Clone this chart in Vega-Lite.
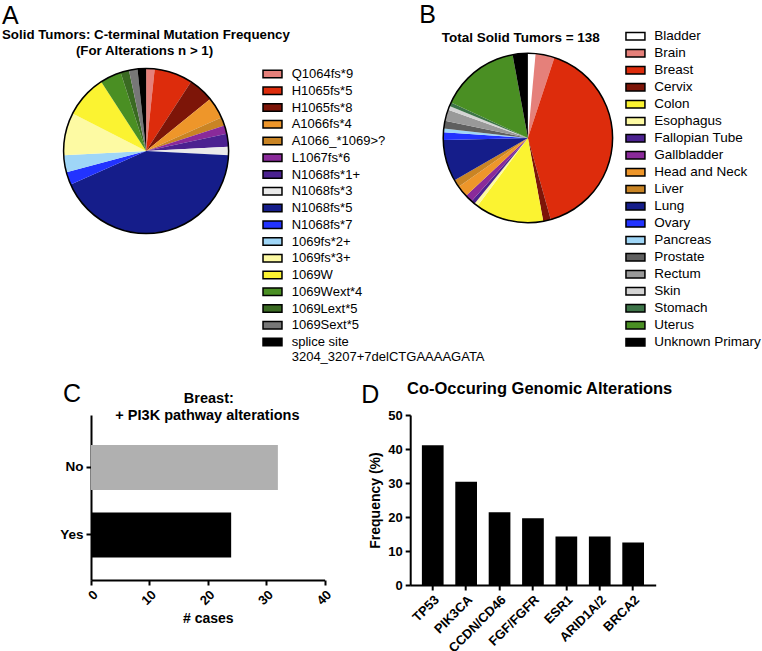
{
  "$schema": "https://vega.github.io/schema/vega-lite/v6.json",
  "background": "white",
  "autosize": {"type": "pad"},
  "padding": {"left": 2, "top": 3, "right": 0, "bottom": 0},
  "columns": 2,
  "spacing": {"row": 166, "column": 85.2},
  "bounds": "flush",
  "align": "each",
  "resolve": {
    "scale": {"color": "independent", "theta": "independent", "x": "independent", "y": "independent"},
    "legend": {"color": "independent"}
  },
  "concat": [
    {
      "width": 110.2,
      "height": 196,
      "title": {
        "text": "A",
        "subtitle": ["Solid Tumors: C-terminal Mutation Frequency", "\u200b\u00a0\u00a0\u00a0\u00a0\u00a0\u00a0\u00a0\u00a0\u00a0\u00a0\u00a0\u00a0\u00a0\u00a0\u00a0\u00a0\u00a0\u00a0\u00a0\u00a0(For Alterations n > 1)"],
        "dx": -89,
        "offset": -4.4,
        "subtitleFontSize": 13.3,
        "subtitleLineHeight": 16,
        "subtitlePadding": -1
      },
      "data": {"values": [
        {"k": 1, "mutation": "Q1064fs*9", "n": 2},
        {"k": 2, "mutation": "H1065fs*5", "n": 9},
        {"k": 3, "mutation": "H1065fs*8", "n": 6},
        {"k": 4, "mutation": "A1066fs*4", "n": 5},
        {"k": 5, "mutation": "A1066_*1069>?", "n": 2},
        {"k": 6, "mutation": "L1067fs*6", "n": 2},
        {"k": 7, "mutation": "N1068fs*1+", "n": 3},
        {"k": 8, "mutation": "N1068fs*3", "n": 2},
        {"k": 9, "mutation": "N1068fs*5", "n": 51},
        {"k": 10, "mutation": "N1068fs*7", "n": 3},
        {"k": 11, "mutation": "1069fs*2+", "n": 4},
        {"k": 12, "mutation": "1069fs*3+", "n": 10},
        {"k": 13, "mutation": "1069W", "n": 10},
        {"k": 14, "mutation": "1069Wext*4", "n": 5},
        {"k": 15, "mutation": "1069Lext*5", "n": 2},
        {"k": 16, "mutation": "1069Sext*5", "n": 2},
        {"k": 17, "mutation": "splice site 3204_3207+7delCTGAAAAGATA", "n": 2}
      ]},
      "layer": [
        {
          "mark": {"type": "arc", "radius": 82.5},
          "encoding": {
            "theta": {"field": "n", "type": "quantitative", "stack": true},
            "order": {"field": "k", "type": "quantitative"},
            "color": {
              "field": "mutation", "type": "nominal",
              "scale": {
                "domain": ["Q1064fs*9","H1065fs*5","H1065fs*8","A1066fs*4","A1066_*1069>?","L1067fs*6","N1068fs*1+","N1068fs*3","N1068fs*5","N1068fs*7","1069fs*2+","1069fs*3+","1069W","1069Wext*4","1069Lext*5","1069Sext*5","splice site 3204_3207+7delCTGAAAAGATA"],
                "range": ["#e5807a","#dd2c0c","#7d1508","#ee962a","#c98424","#8a2a9a","#4b2190","#eaeaea","#151d8a","#2233ff","#9fd6f7","#fdfaa3","#fbf331","#4a8f23","#3a6a22","#777777","#000000"]
              },
              "legend": {
                "orient": "none", "legendX": 172, "legendY": 14.5, "title": null, "padding": 0,
                "symbolType": "M-2,-0.8H2V0.8H-2Z", "symbolSize": 90,
                "symbolStrokeColor": "black", "symbolStrokeWidth": 1.5,
                "symbolOffset": 3, "labelOffset": 12.7, "rowPadding": 1.75,
                "labelFontSize": 13, "labelLimit": 300,
                "labelExpr": "datum.label == 'splice site 3204_3207+7delCTGAAAAGATA' ? ['splice site', '3204_3207+7delCTGAAAAGATA'] : datum.label"
              }
            }
          }
        },
        {
          "transform": [{"aggregate": [{"op": "sum", "field": "n", "as": "total"}]}],
          "mark": {"type": "arc", "radius": 82.5, "filled": false, "stroke": "black", "strokeWidth": 1.5},
          "encoding": {"theta": {"field": "total", "type": "quantitative"}}
        }
      ]
    },
    {
      "width": 235.4,
      "height": 170,
      "title": {
        "text": "B",
        "subtitle": "\u200b\u00a0\u00a0\u00a0\u00a0\u00a0\u00a0Total Solid Tumors = 138",
        "dx": 9,
        "offset": -14.65,
        "subtitleFontSize": 13.5,
        "subtitlePadding": 2.5
      },
      "data": {"values": [
        {"k": 1, "site": "Bladder", "n": 2},
        {"k": 2, "site": "Brain", "n": 5},
        {"k": 3, "site": "Breast", "n": 56},
        {"k": 4, "site": "Cervix", "n": 2},
        {"k": 5, "site": "Colon", "n": 18},
        {"k": 6, "site": "Esophagus", "n": 1},
        {"k": 7, "site": "Fallopian Tube", "n": 1},
        {"k": 8, "site": "Gallbladder", "n": 2},
        {"k": 9, "site": "Head and Neck", "n": 3},
        {"k": 10, "site": "Liver", "n": 2},
        {"k": 11, "site": "Lung", "n": 11},
        {"k": 12, "site": "Ovary", "n": 2},
        {"k": 13, "site": "Pancreas", "n": 1},
        {"k": 14, "site": "Prostate", "n": 2},
        {"k": 15, "site": "Rectum", "n": 3},
        {"k": 16, "site": "Skin", "n": 1},
        {"k": 17, "site": "Stomach", "n": 1},
        {"k": 18, "site": "Uterus", "n": 21},
        {"k": 19, "site": "Unknown Primary", "n": 4}
      ]},
      "layer": [
        {
          "mark": {"type": "arc", "radius": 84.7},
          "encoding": {
            "theta": {"field": "n", "type": "quantitative", "stack": true},
            "order": {"field": "k", "type": "quantitative"},
            "color": {
              "field": "site", "type": "nominal",
              "scale": {
                "domain": ["Bladder","Brain","Breast","Cervix","Colon","Esophagus","Fallopian Tube","Gallbladder","Head and Neck","Liver","Lung","Ovary","Pancreas","Prostate","Rectum","Skin","Stomach","Uterus","Unknown Primary"],
                "range": ["#ffffff","#e5807a","#dd2c0c","#7d1508","#fbf331","#fdfaa3","#4b2190","#8a2a9a","#ee962a","#c98424","#151d8a","#2233ff","#9fd6f7","#5f5f5f","#999999","#d4d4d4","#3d7448","#4a8f23","#000000"]
              },
              "legend": {
                "orient": "none", "legendX": 215.5, "legendY": -23.5, "title": null, "padding": 0,
                "symbolType": "M-2,-0.8H2V0.8H-2Z", "symbolSize": 90,
                "symbolStrokeColor": "black", "symbolStrokeWidth": 1.5,
                "symbolOffset": 3, "labelOffset": 12, "rowPadding": 2,
                "labelFontSize": 13.5, "labelLimit": 300
              }
            }
          }
        },
        {
          "transform": [{"aggregate": [{"op": "sum", "field": "n", "as": "total"}]}],
          "mark": {"type": "arc", "radius": 84.7, "filled": false, "stroke": "black", "strokeWidth": 1.5},
          "encoding": {"theta": {"field": "total", "type": "quantitative"}}
        }
      ]
    },
    {
      "width": 233.6,
      "height": 165,
      "title": {
        "text": "C",
        "subtitle": ["\u200b\u00a0\u00a0\u00a0\u00a0\u00a0\u00a0\u00a0\u00a0\u00a0\u00a0\u00a0\u00a0\u00a0\u00a0\u00a0\u00a0\u00a0\u00a0\u00a0\u00a0\u00a0\u00a0\u00a0\u00a0\u00a0\u00a0\u00a0\u00a0\u00a0\u00a0Breast:", "\u200b\u00a0\u00a0\u00a0\u00a0\u00a0\u00a0\u00a0\u00a0\u00a0\u00a0\u00a0\u00a0\u00a0+ PI3K pathway alterations"],
        "dx": -28,
        "offset": -7.75,
        "subtitleFontSize": 14.5,
        "subtitleLineHeight": 17,
        "subtitlePadding": -14.5
      },
      "data": {"values": [
        {"pi3k": "No", "cases": 32},
        {"pi3k": "Yes", "cases": 24}
      ]},
      "mark": {"type": "bar"},
      "encoding": {
        "y": {
          "field": "pi3k", "type": "nominal", "sort": ["No", "Yes"],
          "scale": {"paddingInner": 0.333, "paddingOuter": 0.389, "align": 0.571},
          "axis": {"title": null, "labelFontSize": 13.5}
        },
        "x": {
          "field": "cases", "type": "quantitative",
          "scale": {"domain": [0, 40]},
          "axis": {"values": [0, 10, 20, 30, 40], "labelAngle": -45, "title": "# cases", "titlePadding": 4}
        },
        "color": {
          "field": "pi3k", "type": "nominal",
          "scale": {"domain": ["No", "Yes"], "range": ["#b0b0b0", "#000000"]},
          "legend": null
        }
      }
    },
    {
      "width": 245.5,
      "height": 170,
      "title": {
        "text": "D",
        "subtitle": "\u200b\u00a0\u00a0\u00a0\u00a0\u00a0\u00a0\u00a0\u00a0\u00a0\u00a0Co-Occuring Genomic Alterations",
        "dx": -49,
        "offset": -1.35,
        "subtitleFontSize": 16.5,
        "subtitlePadding": -27.1
      },
      "data": {"values": [
        {"gene": "TP53", "freq": 41.1},
        {"gene": "PIK3CA", "freq": 30.4},
        {"gene": "CCDN/CD46", "freq": 21.4},
        {"gene": "FGF/FGFR", "freq": 19.6},
        {"gene": "ESR1", "freq": 14.3},
        {"gene": "ARID1A/2", "freq": 14.3},
        {"gene": "BRCA2", "freq": 12.5}
      ]},
      "mark": {"type": "bar", "color": "black"},
      "encoding": {
        "x": {
          "field": "gene", "type": "nominal", "sort": null,
          "scale": {"paddingInner": 0.35, "paddingOuter": 0.35},
          "axis": {"title": null, "labelAngle": -45}
        },
        "y": {
          "field": "freq", "type": "quantitative",
          "scale": {"domain": [0, 50]},
          "axis": {"values": [0, 10, 20, 30, 40, 50], "title": "Frequency (%)", "titlePadding": 5}
        }
      }
    }
  ],
  "config": {
    "font": "Liberation Sans",
    "view": {"stroke": null},
    "axis": {
      "domainColor": "black", "domainWidth": 2, "tickColor": "black", "tickWidth": 2, "tickSize": 5,
      "labelColor": "black", "labelFont": "Liberation Sans", "labelFontSize": 13, "labelFontWeight": "bold",
      "titleColor": "black", "titleFont": "Liberation Sans", "titleFontSize": 14, "titleFontWeight": "bold",
      "grid": false, "labelPadding": 3
    },
    "legend": {"labelColor": "black", "labelFont": "Liberation Sans"},
    "title": {
      "font": "Liberation Sans", "fontSize": 25, "fontWeight": "normal", "color": "black",
      "anchor": "start", "frame": "group",
      "subtitleFont": "Liberation Sans", "subtitleFontWeight": "bold", "subtitleColor": "black"
    }
  }
}
